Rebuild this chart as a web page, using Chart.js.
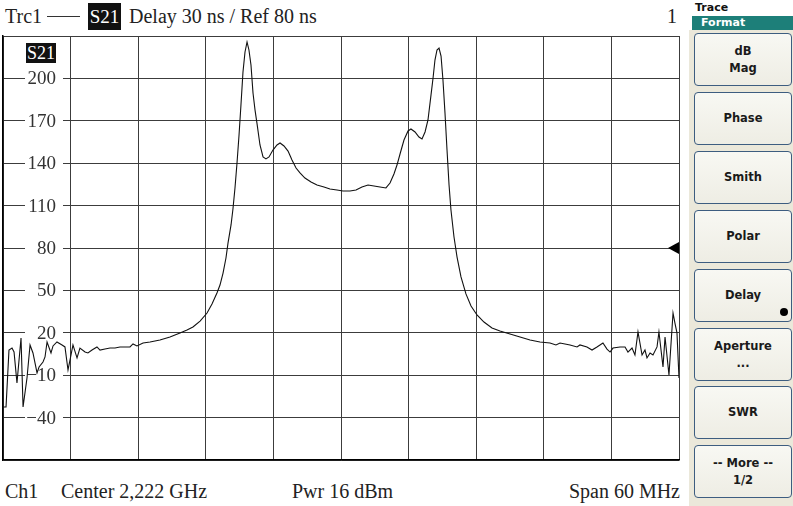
<!DOCTYPE html>
<html>
<head>
<meta charset="utf-8">
<script src="https://cdn.jsdelivr.net/npm/chart.js@4.4.0/dist/chart.umd.min.js"></script>
<style>
    html, body { margin: 0; padding: 0; background: #fff; }
    body { width: 793px; height: 506px; position: relative; overflow: hidden; font-family: "Liberation Serif", serif; color: #222; }
    .txt { position: absolute; font-size: 20px; line-height: 20px; white-space: nowrap; }
    .tag { position: absolute; background: #111; color: #fff; text-align: center; font-size: 19px; }
    #plot { position: absolute; left: 0; top: 0; width: 682px; height: 464px; }
    #panel { position: absolute; left: 689px; top: 30px; width: 104px; height: 476px; background: #ebe8da; }
    .panel-title { position: absolute; left: 695px; top: 1px; font: bold 11px "DejaVu Sans", sans-serif; color: #111; }
    .panel-band { position: absolute; left: 692px; top: 16px; width: 101px; height: 14px; background: #1d7f79; color: #fff; font: bold 11px "DejaVu Sans", sans-serif; line-height: 14px; padding-left: 9px; box-sizing: border-box; }
    .key { position: absolute; left: 694px; width: 98px; height: 53px; box-sizing: border-box; border: 1.5px solid #3d5d80; border-radius: 4px; background: linear-gradient(#f8f8f3, #eeede4); display: flex; align-items: center; justify-content: center; text-align: center; font: bold 11.5px "DejaVu Sans", sans-serif; line-height: 17px; color: #1a1a1a; }
    .dot { position: absolute; right: 3px; bottom: 5px; width: 8px; height: 8px; border-radius: 50%; background: #000; }
</style>
</head>
<body>

<div class="txt" style="left:5px; top:6px;">Trc1</div>
<div style="position:absolute; left:47px; top:16px; width:33px; height:1px; background:#333;"></div>
<div class="tag" style="left:88px; top:3px; width:33px; height:27px; line-height:27px;">S21</div>
<div class="txt" style="left:129px; top:6px;">Delay 30 ns / Ref 80 ns</div>
<div class="txt" style="left:667px; top:6px;">1</div>

<div id="plot"><canvas id="delay-trace"></canvas></div>
<div class="tag" style="left:26px; top:43px; width:30px; height:20px; line-height:20px; font-size:18px;">S21</div>

<div class="txt" style="left:5px; top:481px;">Ch1</div>
<div class="txt" style="left:61px; top:481px;">Center 2,222 GHz</div>
<div class="txt" style="left:292px; top:481px;">Pwr 16 dBm</div>
<div class="txt" style="right:113px; top:481px;">Span 60 MHz</div>

<div class="panel-title">Trace</div>
<div class="panel-band">Format</div>
<div id="panel"></div>
<div id="keys"></div>

<script>
// S21 group delay, Ch1, 2192..2252 MHz
const freqMHz = [
    2192.00, 2192.27, 2192.53, 2192.80, 2192.98, 2193.24, 2193.60, 2193.78, 2194.13, 2194.40,
    2194.66, 2195.02, 2195.20, 2195.55, 2195.73, 2195.91, 2196.26, 2196.44, 2196.79, 2197.24,
    2197.50, 2197.77, 2197.95, 2198.21, 2198.57, 2198.83, 2199.28, 2199.54, 2199.90, 2200.34,
    2200.61, 2201.05, 2201.50, 2201.94, 2202.38, 2202.83, 2203.27, 2203.54, 2203.89, 2204.43,
    2205.05, 2205.93, 2206.82, 2207.71, 2208.33, 2208.86, 2209.49, 2210.11, 2210.55, 2210.99,
    2211.26, 2211.53, 2211.79, 2211.97, 2212.24, 2212.41, 2212.59, 2212.77, 2212.95, 2213.12,
    2213.30, 2213.48, 2213.66, 2213.83, 2214.01, 2214.19, 2214.37, 2214.54, 2214.81, 2215.08,
    2215.34, 2215.61, 2215.96, 2216.32, 2216.59, 2216.94, 2217.30, 2217.65, 2218.01, 2218.36,
    2218.80, 2219.34, 2219.87, 2220.49, 2221.02, 2221.64, 2222.18, 2222.80, 2223.33, 2223.86,
    2224.40, 2224.93, 2225.46, 2225.99, 2226.35, 2226.70, 2226.97, 2227.24, 2227.59, 2227.95,
    2228.21, 2228.57, 2228.92, 2229.19, 2229.46, 2229.72, 2229.99, 2230.17, 2230.34, 2230.52,
    2230.70, 2230.88, 2231.05, 2231.23, 2231.41, 2231.59, 2231.76, 2232.03, 2232.30, 2232.65,
    2233.09, 2233.54, 2234.07, 2234.69, 2235.40, 2236.11, 2237.00, 2237.89, 2238.78, 2239.66,
    2240.55, 2241.08, 2241.44, 2241.88, 2242.33, 2242.95, 2243.21, 2243.83, 2244.28, 2244.72,
    2245.25, 2245.61, 2245.88, 2246.14, 2246.76, 2247.21, 2247.47, 2247.83, 2248.09, 2248.36,
    2248.72, 2248.98, 2249.16, 2249.43, 2249.69, 2250.05, 2250.22, 2250.58, 2250.76, 2251.11,
    2251.47, 2251.64, 2251.82, 2252.00
];

// group delay, ns
const delayNs = [
    -32.5, -32.5, 7.8, 9.2, 6.4, -15.5, 16.3, -32.5, -12.0, 11.4,
    5.7, -8.4, -4.2, -0.7, 2.9, 13.5, 5.7, 10.7, 13.5, 11.4,
    10.0, -6.3, 0.8, 11.4, 2.2, 9.2, 6.4, 5.7, 7.8, 10.0,
    7.8, 8.5, 9.2, 9.2, 10.0, 10.0, 10.0, 12.1, 10.7, 12.8,
    13.5, 14.9, 17.0, 19.9, 22.0, 24.1, 28.3, 34.0, 40.4, 48.2,
    53.8, 62.3, 72.9, 83.5, 96.3, 107.6, 122.5, 140.1, 160.0, 181.2,
    204.5, 218.7, 225.8, 220.1, 209.5, 189.7, 177.6, 168.4, 152.9, 144.4,
    143.0, 144.4, 149.3, 152.9, 154.3, 152.2, 148.6, 142.3, 136.6, 133.1,
    129.5, 126.7, 124.6, 123.2, 121.7, 121.0, 120.3, 120.3, 121.0, 123.2,
    124.6, 123.9, 123.2, 122.5, 126.0, 132.4, 138.7, 146.5, 156.4, 162.8,
    164.2, 162.1, 158.5, 157.1, 162.1, 170.6, 188.3, 200.3, 213.0, 220.1,
    221.5, 215.8, 198.9, 175.5, 149.3, 124.6, 106.9, 87.8, 73.6, 59.5,
    47.5, 39.0, 32.6, 27.6, 23.4, 21.3, 19.2, 17.0, 14.9, 13.5,
    12.8, 11.4, 12.8, 12.1, 11.4, 10.0, 11.4, 10.0, 7.8, 10.0,
    12.8, 8.5, 6.4, 9.2, 10.0, 10.0, 6.4, 9.2, 4.3, 20.6,
    4.3, 7.8, 2.2, 5.7, 4.3, 10.0, 20.6, -4.2, 17.0, -9.9,
    34.0, 26.9, 19.9, -12.0
];

const yTickLabels = [200, 170, 140, 110, 80, 50, 20, -10, -40];
const refLevel = 80;

const softkeys = ['dB<br>Mag', 'Phase', 'Smith', 'Polar', 'Delay', 'Aperture<br>...', 'SWR', '-- More --<br>1/2'];

// softkey column
const keyTops = [33, 92, 151, 210, 269, 328, 386, 445];
const keysEl = document.getElementById('keys');
softkeys.forEach((label, i) => {
    const k = document.createElement('div');
    k.className = 'key';
    k.style.top = keyTops[i] + 'px';
    k.innerHTML = '<span>' + label + '</span>' + (label === 'Delay' ? '<div class="dot"></div>' : '');
    keysEl.appendChild(k);
});

// scale values written inside the grid, over a white patch
const gridLabels = {
    id: 'gridLabels',
    beforeDatasetsDraw(chart) {
        const { ctx, chartArea, scales: { y } } = chart;
        ctx.save();
        ctx.font = '19px "Liberation Serif"';
        ctx.textAlign = 'right';
        ctx.textBaseline = 'middle';
        yTickLabels.forEach(v => {
            const py = y.getPixelForValue(v);
            ctx.fillStyle = '#fff';
            ctx.fillRect(chartArea.left + 22, py - 8, 38, 16);
            ctx.fillStyle = '#333';
            ctx.fillText(v < 0 ? '\u2212' + Math.abs(v) : String(v), chartArea.left + 53, py + 1);
        });
        ctx.restore();
    },
    afterDatasetsDraw(chart) {
        // reference position arrow
        const { ctx, chartArea, scales: { y } } = chart;
        const py = y.getPixelForValue(refLevel);
        ctx.save();
        ctx.fillStyle = '#000';
        ctx.beginPath();
        ctx.moveTo(chartArea.right - 11, py);
        ctx.lineTo(chartArea.right, py - 6);
        ctx.lineTo(chartArea.right, py + 6);
        ctx.closePath();
        ctx.fill();
        ctx.restore();
    }
};

new Chart(document.getElementById('delay-trace'), {
    type: 'line',
    data: {
        datasets: [{
            data: freqMHz.map((f, i) => ({ x: f, y: delayNs[i] })),
            borderColor: '#111',
            borderWidth: 1.1,
            pointRadius: 0,
            tension: 0,
            fill: false
        }]
    },
    options: {
        responsive: true,
        maintainAspectRatio: false,
        animation: false,
        layout: { padding: { left: 3, top: 36, right: 3, bottom: 4 } },
        plugins: { legend: { display: false }, tooltip: { enabled: false } },
        scales: {
            x: {
                type: 'linear',
                min: 2192,
                max: 2252,
                ticks: { display: false, stepSize: 6 },
                grid: { color: '#3c3c3c', lineWidth: 1, drawTicks: false },
                border: { color: '#000', width: 1.5 }
            },
            y: {
                min: -70,
                max: 230,
                ticks: { display: false, stepSize: 30 },
                grid: { color: '#3c3c3c', lineWidth: 1, drawTicks: false },
                border: { color: '#000', width: 1.5 }
            }
        }
    },
    plugins: [gridLabels]
});
</script>
</body>
</html>
